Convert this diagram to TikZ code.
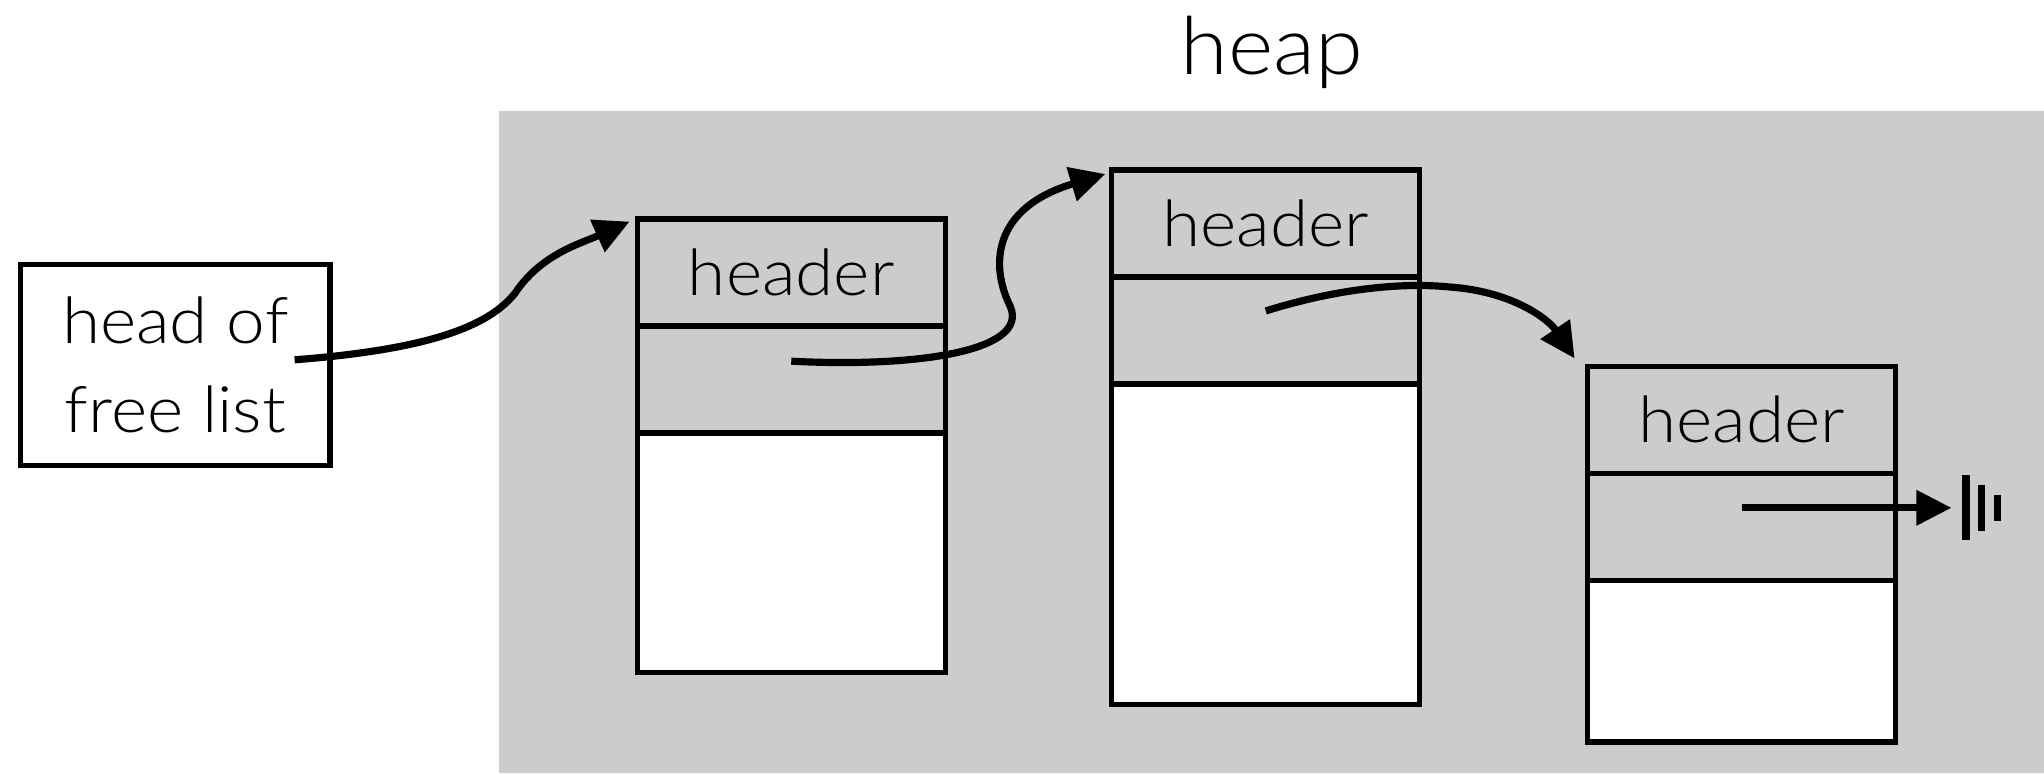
\documentclass[tikz,border=0pt]{standalone}
\usepackage{fontspec}
\setmainfont{Lato}[UprightFont=* Light, FakeStretch=1.08]
\usetikzlibrary{positioning, arrows.meta}

\definecolor{heapgray}{RGB}{204,204,204}

\tikzset{
  cell/.style={draw, rectangle, line width=0.04cm, minimum width=2.36cm, minimum height=0.82cm,
    outer sep=0pt, inner sep=0pt, font=\fontsize{14}{16}\selectfont},
  payload/.style={cell, fill=white},
  link/.style={line width=0.055cm, -{Triangle[length=0.27cm, width=0.26cm]}},
  groundbar/.style={line width=0.055cm}
}

\begin{document}
\begin{tikzpicture}[x=0.01cm, y=-0.01cm]
        \useasboundingbox (0,0) rectangle (1568,593);

        % heap
        \node[fill=heapgray, minimum width=11.85cm, minimum height=5.08cm, outer sep=0pt, inner sep=0pt] (heap) at (975.5,339) {};
        \node[anchor=base, font=\fontsize{17.5}{20}\selectfont] (heap_label) at ([yshift=0.28cm]heap.north) {heap};

        % head of free list
        \node[cell, minimum width=2.37cm, minimum height=1.54cm, align=center,
          font=\fontsize{14}{19.4}\selectfont] (head) at (134.5,280) {head of\\free list};

        % first block
        \node[cell] (hdr1) at (607,209) {header};
        \node[cell] (ptr1) [below=0pt of hdr1] {};
        \node[payload, minimum height=1.84cm] (data1) [below=0pt of ptr1] {};

        % second block
        \node[cell] (hdr2) at (971,171.5) {header};
        \node[cell] (ptr2) [below=0pt of hdr2] {};
        \node[payload, minimum height=2.46cm] (data2) [below=0pt of ptr2] {};

        % third block
        \node[cell] (hdr3) at (1336,322) {header};
        \node[cell] (ptr3) [below=0pt of hdr3] {};
        \node[payload, minimum height=1.24cm] (data3) [below=0pt of ptr3] {};

        % link ends
        \coordinate (head_ptr) at (226,276);
        \coordinate (to1) at ([xshift=-0.06cm, yshift=-0.02cm]hdr1.north west);
        \coordinate (to2) at ([xshift=-0.05cm, yshift=-0.03cm]hdr2.north west);
        \coordinate (to3) at ([xshift=-0.10cm, yshift=0.06cm]hdr3.north west);
        \coordinate (null3) at ([yshift=0.145cm]ptr3.center);
        \coordinate (gnd) at ([xshift=1.61cm]null3);

        % free list links
        \draw[link] (head_ptr) .. controls (330,268) and (375,250) .. (395,225)
          .. controls (415,195) and (445,187) .. (to1);
        \draw[link] ([yshift=0.14cm]ptr1.center) .. controls (700,282) and (790,270) .. (775,235)
          .. controls (760,205) and (760,160) .. (to2);
        \draw[link] ([yshift=0.15cm]ptr2.center) .. controls (1030,220) and (1080,217) .. (1110,220)
          .. controls (1160,223) and (1188,245) .. (to3);
        \draw[link] (null3) -- (gnd);

        % null
        \foreach \dx/\h in {0.11/0.25, 0.23/0.175, 0.35/0.10}
          \draw[groundbar] ([shift={(\dx cm,\h cm)}]gnd) -- ([shift={(\dx cm,-\h cm)}]gnd);

\end{tikzpicture}
\end{document}
